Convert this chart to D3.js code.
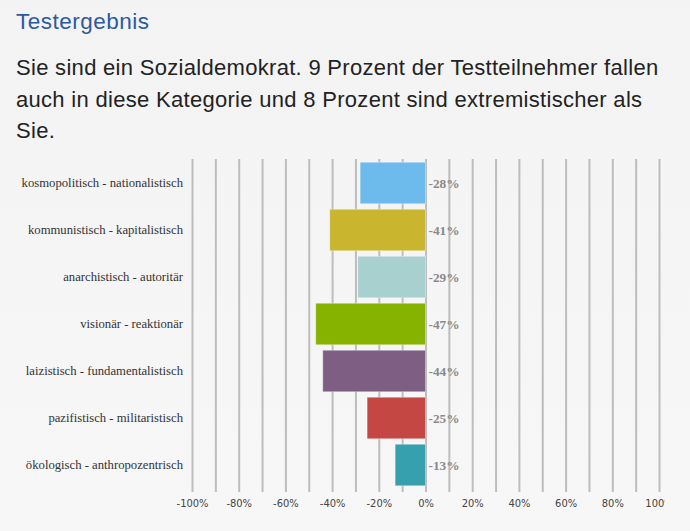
<!DOCTYPE html>
<html>
<head>
<meta charset="utf-8">
<title>Testergebnis</title>
<script src="https://cdn.jsdelivr.net/npm/d3@7"></script>
<style>
  html, body { margin: 0; padding: 0; }
  body {
    width: 690px; height: 531px; overflow: hidden;
    background: linear-gradient(#f3f3f3, #f7f7f7);
    font-family: "Liberation Sans", Arial, sans-serif;
    position: relative;
  }
  h2 {
    position: absolute; left: 16px; top: 9px; margin: 0;
    font-weight: normal; font-size: 22.5px; letter-spacing: 0.5px; color: #2c5aa0;
  }
  p {
    position: absolute; left: 16px; top: 52px; margin: 0;
    font-size: 22px; letter-spacing: 0.3px; line-height: 31.5px; color: #222;
  }
  svg { position: absolute; left: 0; top: 0; }
  .grid line { stroke: #bdbdbd; stroke-width: 2px; }
  .grid path { display: none; }
  .xaxis text { font-family: "DejaVu Sans Condensed", "DejaVu Sans", sans-serif; font-size: 11px; fill: #444; }
  .xaxis path, .xaxis line { display: none; }
  .cat { font-family: "Liberation Serif", "Times New Roman", serif; font-size: 12.7px; fill: #333; }
  .val { font-family: "Liberation Serif", "Times New Roman", serif; font-size: 13.3px; font-weight: bold; fill: #8a8a8a; }
</style>
</head>
<body>
<h2>Testergebnis</h2>
<p>Sie sind ein Sozialdemokrat. 9 Prozent der Testteilnehmer fallen<br>auch in diese Kategorie und 8 Prozent sind extremistischer als<br>Sie.</p>
<script>
  var categories = [
    "kosmopolitisch - nationalistisch",
    "kommunistisch - kapitalistisch",
    "anarchistisch - autoritär",
    "visionär - reaktionär",
    "laizistisch - fundamentalistisch",
    "pazifistisch - militaristisch",
    "ökologisch - anthropozentrisch"
  ];
  var values = [-28, -41, -29, -47, -44, -25, -13];
  var colors = ["#6dbbec", "#c9b52e", "#a7d0cf", "#86b300", "#7f5e83", "#c44744", "#37a0af"];
  var gridTicks = d3.range(-100, 101, 10);
  var labelTicks = [-100, -80, -60, -40, -20, 0, 20, 40, 60, 80, 100];

  var svg = d3.select("body").append("svg")
      .attr("width", 665)
      .attr("height", 531);

  var x = d3.scaleLinear().domain([-100, 100]).range([192, 659]);
  var y = d3.scaleBand().domain(categories).range([159.5, 488.5])
      .paddingInner(0.117).paddingOuter(0.0585);

  // vertical grid lines
  svg.append("g")
     .attr("class", "grid")
     .attr("transform", "translate(0,159)")
     .call(d3.axisBottom(x).tickValues(gridTicks).tickSize(333).tickFormat(""));

  // bars
  svg.selectAll("rect.bar")
     .data(values)
     .enter()
     .append("rect")
     .attr("class", "bar")
     .attr("x", function(d){ return x(Math.min(0, d)); })
     .attr("y", function(d, i){ return y(categories[i]); })
     .attr("width", function(d){ return Math.abs(x(d) - x(0)); })
     .attr("height", y.bandwidth())
     .attr("fill", function(d, i){ return colors[i]; })
     .attr("stroke", "rgba(255,255,255,0.35)")
     .attr("stroke-width", 1);

  // value labels
  svg.selectAll("text.val")
     .data(values)
     .enter()
     .append("text")
     .attr("class", "val")
     .attr("x", x(0) + 3)
     .attr("y", function(d, i){ return y(categories[i]) + y.bandwidth() / 2; })
     .attr("dy", "0.35em")
     .text(function(d){ return d + "%"; });

  // category labels
  svg.selectAll("text.cat")
     .data(categories)
     .enter()
     .append("text")
     .attr("class", "cat")
     .attr("x", 183)
     .attr("y", function(d){ return y(d) + y.bandwidth() / 2; })
     .attr("dy", "0.35em")
     .attr("text-anchor", "end")
     .text(function(d){ return d; });

  // x axis labels (the last one is clipped at the chart edge, as in the original)
  svg.append("g")
     .attr("class", "xaxis")
     .attr("transform", "translate(0,492)")
     .call(d3.axisBottom(x).tickValues(labelTicks).tickSize(0).tickPadding(7)
       .tickFormat(function(d){ return d + "%"; }));
</script>
</body>
</html>
